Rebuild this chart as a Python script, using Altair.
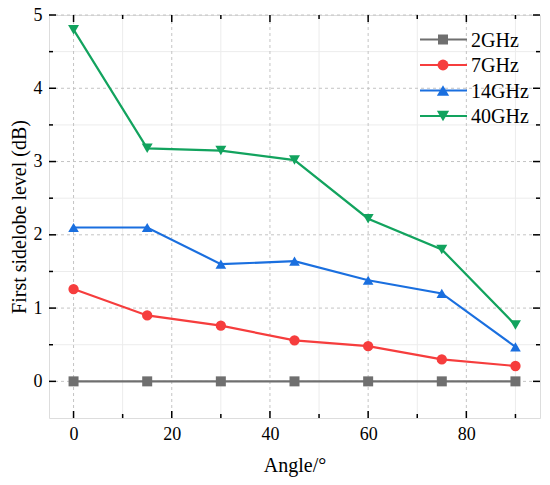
import altair as alt
import pandas as pd

# ---- data ----
angles = [0, 15, 30, 45, 60, 75, 90]
series_names = ["2GHz", "7GHz", "14GHz", "40GHz"]
v_2ghz = [0.0, 0.0, 0.0, 0.0, 0.0, 0.0, 0.0]
v_7ghz = [1.26, 0.90, 0.76, 0.56, 0.48, 0.30, 0.21]
v_14ghz = [2.10, 2.10, 1.60, 1.64, 1.38, 1.20, 0.47]
v_40ghz = [4.80, 3.18, 3.15, 3.02, 2.22, 1.80, 0.77]

x_major = [0, 20, 40, 60, 80]
x_minor = [10, 30, 50, 70, 90]
y_major = [0, 1, 2, 3, 4, 5]
y_minor = [0.5, 1.5, 2.5, 3.5, 4.5]

colors = ["#6f6f6f", "#f63d3d", "#1a6fdf", "#12a35e"]
shapes = ["square", "circle", "triangle-up", "triangle-down"]
sizes = [100, 120, 150, 150]

W, H = 491, 403
FONT = "Liberation Serif"

rows = []
for name, vals in zip(series_names, [v_2ghz, v_7ghz, v_14ghz, v_40ghz]):
    for a, v in zip(angles, vals):
        rows.append({"angle": a, "value": v, "series": name})
df = pd.DataFrame(rows)

xs = alt.Scale(domain=[-5, 95], nice=False, zero=False)
ys = alt.Scale(domain=[-0.5, 5], nice=False, zero=False)
cs = alt.Scale(domain=series_names, range=colors)
ss = alt.Scale(domain=series_names, range=shapes)
zs = alt.Scale(domain=series_names, range=sizes)

dxM = pd.DataFrame({"x": x_major})
dxm = pd.DataFrame({"x": x_minor})
dyM = pd.DataFrame({"y": y_major})
dym = pd.DataFrame({"y": y_minor})

# minor (faint) grid
gx_minor = alt.Chart(dxm).mark_rule(color="#ececec", strokeWidth=1).encode(
    x=alt.X("x:Q", scale=xs), y=alt.value(0), y2=alt.value(H))
gy_minor = alt.Chart(dym).mark_rule(color="#ececec", strokeWidth=1).encode(
    y=alt.Y("y:Q", scale=ys), x=alt.value(0), x2=alt.value(W))
# major dashed grid
gx_major = alt.Chart(dxM).mark_rule(color="#c4c4c4", strokeWidth=1, strokeDash=[3, 3]).encode(
    x=alt.X("x:Q", scale=xs), y=alt.value(0), y2=alt.value(H))
gy_major = alt.Chart(dyM).mark_rule(color="#c4c4c4", strokeWidth=1, strokeDash=[3, 3]).encode(
    y=alt.Y("y:Q", scale=ys), x=alt.value(0), x2=alt.value(W))

lines = alt.Chart(df).mark_line(strokeWidth=2.2).encode(
    x=alt.X("angle:Q", scale=xs,
            axis=alt.Axis(title="Angle/°", values=x_major, grid=False, ticks=False, domain=False,
                          format="d",
                          labelFont=FONT, labelFontSize=18, labelColor="black", labelPadding=7,
                          titleFont=FONT, titleFontSize=20, titleFontWeight="normal",
                          titleColor="black", titlePadding=12, labelFlush=False)),
    y=alt.Y("value:Q", scale=ys,
            axis=alt.Axis(title="First sidelobe level (dB)", values=y_major, grid=False, ticks=False,
                          domain=False, format="d", labelFont=FONT, labelFontSize=18,
                          labelColor="black", labelPadding=7, titleFont=FONT, titleFontSize=20,
                          titleFontWeight="normal", titleColor="black", titlePadding=4)),
    color=alt.Color("series:N", scale=cs, legend=None),
    detail="series:N",
)
points = alt.Chart(df).mark_point(filled=True, opacity=1).encode(
    x=alt.X("angle:Q", scale=xs),
    y=alt.Y("value:Q", scale=ys),
    color=alt.Color("series:N", scale=cs, legend=None),
    shape=alt.Shape("series:N", scale=ss, legend=None),
    size=alt.Size("series:N", scale=zs, legend=None),
)

# inward ticks
tick_layers = []
for data, L in [(dxM, 7), (dxm, 4)]:
    tick_layers.append(alt.Chart(data).mark_rule(color="black", strokeWidth=1.5).encode(
        x=alt.X("x:Q", scale=xs), y=alt.value(H), y2=alt.value(H - L)))
    tick_layers.append(alt.Chart(data).mark_rule(color="black", strokeWidth=1.5).encode(
        x=alt.X("x:Q", scale=xs), y=alt.value(0), y2=alt.value(L)))
for data, L in [(dyM, 7), (dym, 4)]:
    tick_layers.append(alt.Chart(data).mark_rule(color="black", strokeWidth=1.5).encode(
        y=alt.Y("y:Q", scale=ys), x=alt.value(0), x2=alt.value(L)))
    tick_layers.append(alt.Chart(data).mark_rule(color="black", strokeWidth=1.5).encode(
        y=alt.Y("y:Q", scale=ys), x=alt.value(W), x2=alt.value(W - L)))

# manual legend (line + marker + label)
legend_layers = []
leg_y = [24.5, 50, 75.5, 101]
for name, col, shp, sz, ly in zip(series_names, colors, shapes, sizes, leg_y):
    ldf = pd.DataFrame({"series": [name]})
    legend_layers.append(alt.Chart(ldf).mark_rule(color=col, strokeWidth=2.2).encode(
        x=alt.value(371), x2=alt.value(418), y=alt.value(ly)))
    legend_layers.append(alt.Chart(ldf).mark_point(filled=True, opacity=1, color=col,
                                                   shape=shp, size=sz).encode(
        x=alt.value(394), y=alt.value(ly)))
    legend_layers.append(alt.Chart(ldf).mark_text(align="left", baseline="middle", font=FONT,
                                                  fontSize=20, color="black").encode(
        x=alt.value(422), y=alt.value(ly + 1), text="series:N"))

chart = alt.layer(
    gx_minor, gy_minor, gx_major, gy_major, lines, points, *tick_layers, *legend_layers
).properties(
    width=W, height=H,
    autosize=alt.AutoSizeParams(type="none"),
    padding={"left": 41, "top": 7, "right": 2, "bottom": 62},
).configure_view(
    stroke="black", strokeWidth=2
).configure(background="white", font=FONT)

chart.save("out.html", embed_options={"renderer": "svg", "actions": False})
